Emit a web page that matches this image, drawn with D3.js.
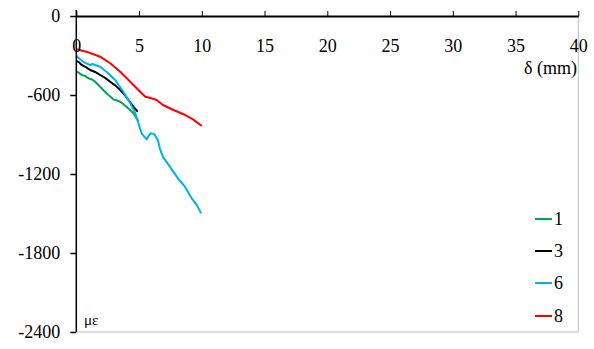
<!DOCTYPE html>
<html><head><meta charset="utf-8">
<script src="https://cdn.jsdelivr.net/npm/d3@7"></script>
<style>body{margin:0;background:#fff;}</style>
</head><body>
<svg id="c" width="594" height="349"></svg>
<script>
const xTicks = [0,5,10,15,20,25,30,35,40];
const yTicks = [0,-600,-1200,-1800,-2400];
const seriesNames = ["1","3","6","8"];
const seriesColors = ["#00a651","#000000","#00b0f0","#ff0000"];
const s1 = [[0,-423],[0.2,-430],[0.43,-448],[0.7,-455],[0.95,-473],[1.2,-480],[1.5,-499],[1.9,-537],[2.4,-587],[2.7,-612],[2.95,-633],[3.2,-640],[3.5,-651],[4.0,-689],[4.55,-739],[4.8,-777],[4.95,-800]];
const s3 = [[0,-342],[0.2,-350],[0.43,-372],[0.8,-390],[1.1,-410],[1.5,-425],[1.9,-448],[2.3,-470],[2.7,-499],[3.1,-527],[3.5,-562],[3.85,-598],[4.15,-638],[4.55,-689],[4.9,-727]];
const s6 = [[0,-301],[0.25,-325],[0.55,-347],[0.8,-360],[1.1,-372],[1.3,-365],[1.5,-372],[1.9,-385],[2.4,-423],[3.1,-486],[3.75,-575],[4.3,-663],[4.7,-739],[4.95,-815],[5.2,-891],[5.6,-937],[5.8,-905],[5.95,-891],[6.2,-897],[6.5,-942],[6.65,-1005],[6.9,-1068],[7.45,-1144],[8.1,-1233],[8.65,-1296],[9.2,-1385],[9.6,-1436],[9.95,-1499]];
const s8 = [[0,-253],[0.8,-271],[1.9,-309],[2.7,-359],[3.5,-423],[4.3,-499],[4.95,-562],[5.5,-613],[6.0,-625],[6.4,-638],[6.9,-676],[7.75,-714],[8.5,-744],[9.3,-785],[10.0,-835]];
const seriesData = [s1,s3,s6,s8];

const FONT = "Liberation Serif";
const svg = d3.select("#c");
const x = d3.scaleLinear().domain([0,40]).range([76.3,578.3]);
const y = d3.scaleLinear().domain([0,-2400]).range([16,332]);
const fmt = d => String(d);

svg.append("line").attr("x1",x(40)).attr("x2",x(40)).attr("y1",y(0)).attr("y2",y(-2400)).attr("stroke","#bfbfbf").attr("stroke-width",1);
svg.append("line").attr("x1",x(0)).attr("x2",x(40)).attr("y1",y(-2400)).attr("y2",y(-2400)).attr("stroke","#bfbfbf").attr("stroke-width",1);

const line = d3.line().x(d=>x(d[0])).y(d=>y(d[1]));
seriesData.forEach((s,i)=>{
  svg.append("path").datum(s).attr("d",line).attr("fill","none")
    .attr("stroke",seriesColors[i]).attr("stroke-width",2).attr("stroke-linejoin","round");
});

const xa = svg.append("g").attr("transform",`translate(0,${y(0)})`)
  .call(d3.axisTop(x).tickValues(xTicks).tickSize(5).tickSizeOuter(0).tickFormat(fmt));
xa.attr("font-family",FONT).attr("font-size",18);
xa.select(".domain").attr("stroke","#000").attr("stroke-width",2);
xa.selectAll(".tick line").attr("stroke","#000").attr("stroke-width",1);
xa.selectAll(".tick text").attr("y",36).attr("dy",0).attr("fill","#000");

const ya = svg.append("g").attr("transform",`translate(${x(0)},0)`)
  .call(d3.axisLeft(y).tickValues(yTicks).tickSize(6).tickSizeOuter(0).tickFormat(fmt));
ya.attr("font-family",FONT).attr("font-size",18);
ya.select(".domain").attr("stroke","#000").attr("stroke-width",1.5).attr("d",`M0,${y(0)-6}V${y(-2400)}`);
ya.selectAll(".tick line").attr("stroke","#000").attr("stroke-width",1.5);
ya.selectAll(".tick text").attr("x",-16).attr("fill","#000");

svg.append("text").attr("x",577).attr("y",74).attr("text-anchor","end").attr("font-family",FONT).attr("font-size",18).text("δ (mm)");
svg.append("text").attr("x",84).attr("y",325).attr("font-family",FONT).attr("font-size",15).text("με");

const legY = [219,251,283,316];
seriesNames.forEach((n,i)=>{
  svg.append("line").attr("x1",535).attr("x2",552).attr("y1",legY[i]).attr("y2",legY[i]).attr("stroke",seriesColors[i]).attr("stroke-width",2);
  svg.append("text").attr("x",554).attr("y",legY[i]+6).attr("font-family",FONT).attr("font-size",18).text(n);
});
</script>
</body></html>
